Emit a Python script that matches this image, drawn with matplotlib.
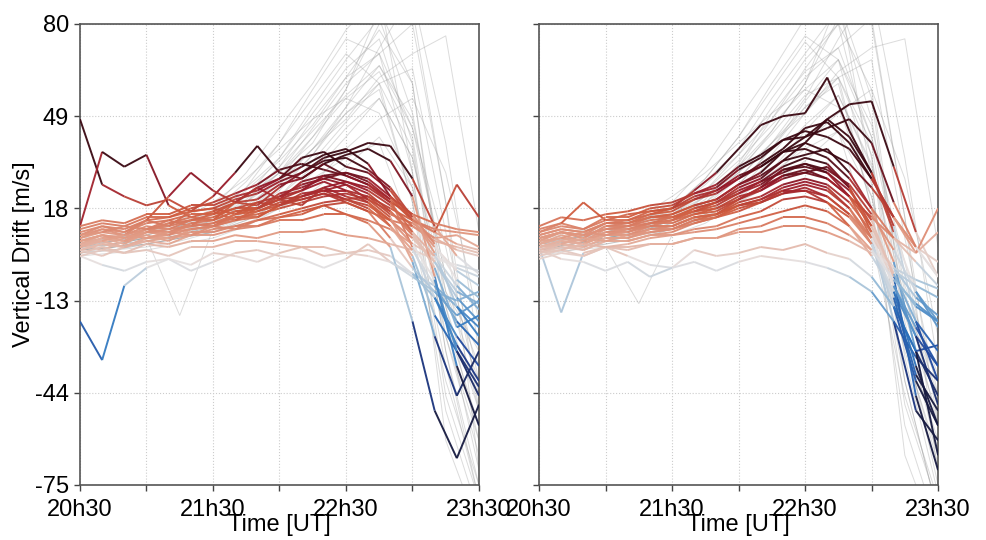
import numpy as np
import matplotlib
matplotlib.use("Agg")
import matplotlib.pyplot as plt
from matplotlib.collections import LineCollection
from matplotlib.colors import LinearSegmentedColormap, TwoSlopeNorm

plt.rcParams['font.family'] = ['Liberation Sans', 'DejaVu Sans']

# time stamps (UT) of the hand-read samples
times_fine = ["20:30", "20:40", "20:50", "21:00", "21:10", "21:20", "21:30", "21:40", "21:50", "22:00",
              "22:10", "22:20", "22:30", "22:40", "22:50", "23:00", "23:10", "23:20", "23:30"]
times_coarse = ["20:30", "20:45", "21:00", "21:15", "21:30", "21:45", "22:00", "22:15", "22:30",
                "22:45", "23:00", "23:15", "23:30"]

# left panel, coloured drifts [m/s]
left_colored = [
    [48, 26, 22, 19, 21, 17, 18, 16, 20, 19, 23, 24, 21, 22, 16, 13, 8, 9, 5],
    [12, 37, 32, 36, 19, 15, 17, 14, 18, 21, 19, 25, 22, 20, 14, 12, 7, 5, 3],
    [8, 11, 9, 14, 12, 17, 22, 30, 39, 30, 28, 33, 29, 26, 21, 14, 10, 6, 4],
    [6, 9, 7, 11, 14, 12, 17, 20, 19, 25, 30, 35, 37, 40, 39, 28, 12, 2, -4],
    [5, 8, 6, 10, 13, 15, 14, 20, 25, 28, 35, 37, 32, 30, 24, 14, 5, -3, -8],
    [9, 12, 10, 14, 22, 30, 24, 20, 25, 21, 27, 29, 27, 24, 19, 12, 8, 4, 2],
    [2, -1, -3, 0, 1, -3, 0, 3, 4, 2, 1, -2, 1, 6, 0, -4, -8, -15, -22],
    [-20, -33, -8, -2, 1, -1, 3, 2, 0, 3, 5, 2, 3, 4, 2, -4, -12, -25, -35],
    [5, 7, 5, 8, 10, 9, 12, 11, 14, 15, 17, 19, 16, 13, 5, -20, -50, -66, -48],
    [4, 6, 5, 8, 9, 11, 12, 15, 15, 19, 22, 24, 26, 21, 15, 0, -25, -45, -30],
    [7, 9, 7, 10, 9, 13, 12, 16, 18, 21, 24, 29, 30, 27, 21, 5, -12, -28, -40],
    [6, 4, 7, 9, 7, 11, 12, 14, 15, 19, 21, 23, 20, 17, 8, -2, -10, -18, -13],
    [8, 10, 9, 12, 11, 14, 15, 18, 18, 23, 25, 28, 26, 23, 17, 9, 0, -10, -14],
    [10, 12, 11, 14, 15, 17, 18, 21, 23, 27, 30, 34, 35, 31, 25, 15, 3, -15, -25],
    [5, 7, 5, 8, 8, 10, 10, 12, 12, 14, 14, 16, 16, 14, 11, 6, 2, -2, -5],
    [3, 5, 3, 6, 5, 7, 7, 9, 8, 10, 10, 11, 9, 8, 6, 4, 1, -1, -3],
    [12, 14, 13, 16, 16, 19, 19, 22, 24, 28, 32, 36, 38, 33, 22, 14, 10, 26, 15],
    [6, 8, 9, 11, 10, 13, 14, 17, 18, 21, 22, 24, 24, 22, 18, 14, 11, 10, 9],
    [4, 2, 5, 7, 6, 9, 9, 11, 12, 15, 16, 19, 20, 17, 14, 8, 0, -12, -20],
    [9, 11, 10, 13, 14, 16, 16, 20, 21, 26, 28, 33, 36, 38, 34, 22, -5, -35, -55],
    [7, 9, 8, 11, 12, 14, 14, 17, 18, 22, 24, 27, 24, 20, 12, 2, -18, -30, -45],
    [2, 4, 3, 4, 2, 5, 5, 7, 7, 6, 5, 5, 3, 2, 0, -5, -10, -13, -10],
    [11, 13, 12, 15, 15, 18, 20, 23, 26, 31, 33, 31, 29, 26, 20, 16, 13, 11, 10],
    [5, 8, 7, 10, 10, 12, 13, 16, 17, 20, 21, 23, 21, 18, 12, 4, -8, -20, -28],
    [7, 9, 8, 10, 11, 12, 13, 15, 16, 18, 20, 22, 23, 21, 17, 10, 2, -8, -16],
    [9, 10, 12, 11, 13, 14, 16, 18, 20, 22, 26, 28, 30, 28, 22, 16, 6, -6, -12],
    [4, 6, 5, 7, 8, 9, 11, 12, 14, 16, 18, 20, 21, 19, 14, 6, -6, -30, -42],
    [6, 7, 9, 8, 10, 11, 12, 14, 17, 19, 22, 25, 27, 25, 20, 10, -2, -22, -18],
]

# right panel, coloured drifts [m/s]
right_colored = [
    [7, 10, 8, 12, 13, 16, 18, 24, 30, 38, 46, 49, 50, 62, 44, 30, 10, -10, -20],
    [6, 9, 7, 11, 12, 15, 16, 19, 21, 26, 30, 37, 42, 48, 53, 54, 32, 10, -5],
    [5, 7, 6, 10, 10, 13, 14, 18, 20, 25, 28, 34, 40, 48, 42, 30, 12, -20, -40],
    [10, 13, 11, 14, 14, 16, 17, 21, 23, 28, 32, 37, 40, 37, 33, 25, 15, 5, -5],
    [4, 6, 5, 8, 8, 10, 11, 14, 16, 21, 25, 31, 32, 30, 22, 8, -20, -50, -60],
    [8, 10, 9, 13, 13, 15, 15, 18, 20, 24, 27, 32, 35, 33, 25, 10, -15, -40, -55],
    [3, 5, 4, 7, 7, 9, 10, 13, 15, 19, 21, 24, 24, 20, 12, 2, -10, -25, -35],
    [5, -17, 3, 5, 2, -1, -2, 4, 2, 3, 5, 4, 6, 3, 1, -5, -15, -30, -45],
    [4, 1, 0, -3, 0, -5, -2, 0, -3, 0, 2, 1, 0, -2, -5, -10, -20, -32, -40],
    [12, 15, 14, 16, 17, 19, 20, 23, 25, 31, 35, 41, 44, 42, 38, 28, 15, 5, 0],
    [6, 8, 6, 9, 9, 11, 12, 15, 16, 20, 22, 26, 28, 26, 20, 10, -5, -15, -20],
    [9, 11, 10, 13, 13, 15, 16, 19, 21, 26, 29, 34, 36, 38, 30, 18, 0, -30, -65],
    [5, 7, 6, 9, 9, 12, 12, 15, 16, 19, 20, 23, 24, 22, 16, 8, -2, -12, -18],
    [2, 4, 2, 5, 5, 6, 6, 8, 8, 10, 10, 12, 12, 10, 7, 3, -3, -8, -12],
    [11, 13, 20, 14, 16, 17, 18, 21, 24, 28, 33, 38, 45, 47, 40, 28, 15, 3, 10],
    [7, 10, 8, 12, 12, 14, 15, 17, 18, 22, 24, 29, 30, 28, 22, 15, 8, 3, 18],
    [3, 6, 4, 7, 7, 9, 9, 11, 12, 15, 17, 21, 22, 20, 15, 6, -10, -35, -55],
    [8, 10, 9, 11, 11, 13, 14, 17, 19, 23, 26, 31, 33, 30, 24, 14, -5, -45, -70],
    [4, 6, 5, 8, 8, 11, 11, 14, 15, 18, 20, 24, 26, 24, 18, 6, -15, -30, -28],
    [10, 12, 11, 15, 15, 18, 19, 23, 26, 32, 36, 41, 42, 45, 48, 40, 20, 5, -5],
    [6, 8, 7, 10, 11, 13, 13, 16, 17, 21, 24, 28, 30, 32, 25, 12, -8, -22, -35],
    [1, 3, 2, 5, 4, 6, 6, 8, 8, 11, 12, 15, 15, 13, 9, 4, -2, -6, -9],
    [9, 11, 10, 13, 14, 17, 18, 22, 24, 29, 32, 37, 38, 35, 28, 18, 8, 0, -8],
    [5, 7, 6, 9, 10, 12, 12, 15, 16, 19, 21, 25, 27, 25, 18, 8, -8, -25, -48],
    [7, 8, 10, 9, 11, 12, 14, 16, 18, 21, 25, 29, 31, 28, 22, 12, -4, -20, -30],
    [5, 6, 8, 7, 9, 10, 11, 13, 15, 17, 20, 23, 25, 22, 16, 6, -12, -38, -50],
    [8, 10, 9, 11, 12, 13, 15, 17, 20, 23, 27, 30, 33, 31, 26, 16, 4, -10, -22],
    [3, 4, 6, 5, 6, 8, 9, 10, 11, 13, 15, 17, 19, 17, 12, 4, -6, -14, -20],
]

# grey background drifts [m/s]
left_gray = [
    [5, 6, 8, 10, 14, 22, 35, 50, 65, 75, 40, -30, -80],
    [4, 5, 7, 9, 12, 18, 28, 42, 58, 85, 60, -20, -70],
    [3, 6, 8, 11, 16, 25, 40, 55, 70, 60, 20, -50, -85],
    [6, 7, 9, 12, 18, 30, 45, 60, 78, 90, 30, -60, -90],
    [5, 4, 6, 8, 10, 15, 22, 32, 45, 55, 35, -10, -40],
    [7, 8, 10, 14, 20, 28, 38, 48, 55, 50, 25, -25, -60],
    [4, 5, 7, 9, 13, 20, 30, 45, 60, 70, 80, 20, -50],
    [3, 4, 5, 7, 10, 14, 20, 28, 35, 40, 10, -40, -75],
    [6, 8, 10, 13, 17, 25, 35, 52, 68, 82, 50, -10, -30],
    [5, 6, 8, 10, 15, 20, 28, 38, 48, 62, 70, 76, 10],
    [8, 9, 11, 13, 16, 22, 32, 44, 56, 66, 45, 5, -45],
    [4, 6, 7, 9, 12, 16, 24, 36, 50, 58, 20, -35, -80],
    [2, 3, 4, 6, 8, 12, 18, 26, 38, 48, 55, 30, -20],
    [6, 7, 8, -18, 11, 17, 26, 38, 52, 72, 90, 40, -30],
    [5, 7, 9, 12, 16, 24, 34, 46, 62, 78, 60, -15, -60],
    [4, 5, 6, 8, 10, 13, 18, 24, 32, 42, 25, -20, -55],
    [5, 6, 7, 9, 13, 20, 32, 48, 62, 70, 45, -5, -50],
    [6, 8, 9, 12, 15, 22, 30, 40, 58, 80, 85, 20, -70],
    [3, 5, 6, 8, 11, 15, 22, 34, 47, 60, 38, -30, -75],
    [7, 8, 10, 12, 17, 27, 40, 58, 75, 70, 30, -45, -80],
    [4, 5, 7, 9, 12, 17, 25, 36, 52, 66, 48, -5, -35],
    [5, 7, 8, 10, 14, 21, 30, 42, 55, 64, 42, -25, -65],
    [6, 6, 8, 11, 14, 19, 27, 38, 50, 60, 65, 10, -40],
    [3, 4, 6, 8, 10, 14, 20, 30, 42, 55, 35, -15, -50],
]
right_gray = [
    [6, 7, 9, 12, 16, 24, 36, 52, 68, 80, 35, -40, -85],
    [5, 6, 8, 10, 14, 20, 30, 44, 60, 88, 55, -25, -75],
    [4, 6, 9, 12, 18, 28, 42, 58, 74, 62, 18, -55, -90],
    [7, 8, 10, 13, 20, 32, 48, 64, 82, 92, 28, -65, -95],
    [5, 5, 7, 9, 11, 16, 24, 34, 46, 56, 32, -12, -45],
    [8, 9, 11, 15, 22, 30, 40, 50, 58, 52, 22, -30, -65],
    [4, 6, 8, 10, 14, 22, 32, 48, 62, 72, 82, 15, -55],
    [3, 4, 6, 8, 11, 15, 22, 30, 38, 44, 8, -45, -80],
    [7, 8, 11, 14, 18, 27, 38, 55, 70, 85, 48, -15, -40],
    [5, 7, 9, 11, 16, 22, 30, 40, 50, 64, 72, 75, 5],
    [8, 10, 12, 14, 18, 24, 34, 46, 58, 68, 42, 0, -50],
    [4, 6, 8, 10, 13, 18, 26, 38, 52, 60, 18, -40, -85],
    [2, 4, 5, -14, 9, 13, 20, 28, 40, 50, 58, 28, -25],
    [6, 8, 9, 11, 12, 19, 28, 40, 55, 75, 92, 35, -35],
    [5, 7, 10, 13, 17, 26, 36, 48, 65, 80, 58, -20, -65],
    [4, 5, 7, 9, 11, 14, 20, 26, 34, 44, 22, -25, -60],
    [6, 7, 8, 10, 14, 21, 33, 50, 64, 72, 42, -10, -55],
    [5, 7, 9, 11, 16, 23, 32, 44, 60, 82, 80, 15, -72],
    [4, 5, 7, 9, 12, 16, 24, 36, 50, 62, 36, -32, -78],
    [6, 8, 10, 13, 18, 28, 42, 60, 76, 68, 26, -48, -82],
    [5, 6, 8, 10, 13, 18, 26, 38, 54, 68, 46, -8, -38],
    [4, 6, 8, 11, 15, 22, 31, 43, 56, 62, 40, -28, -68],
    [7, 7, 9, 12, 15, 20, 28, 40, 52, 62, 68, 8, -45],
    [3, 5, 6, 8, 11, 15, 21, 31, 44, 56, 33, -18, -52],
]

x_tick_labels = ["20h30", "21h30", "22h30", "23h30"]


def to_hours(stamps):
    return np.array([int(s[:2]) + int(s[3:]) / 60.0 for s in stamps])


t_fine = to_hours(times_fine)
t_coarse = to_hours(times_coarse)

# approximation of a balance-like diverging map
cmap = LinearSegmentedColormap.from_list("balance_like", [
    (0.00, "#161a40"), (0.12, "#1c3f97"), (0.25, "#2f78c0"), (0.38, "#93b9d6"),
    (0.50, "#e6e2e2"), (0.62, "#e3a08a"), (0.75, "#cf5a3d"), (0.88, "#9a1a2a"),
    (1.00, "#3a0812")])
norm = TwoSlopeNorm(vmin=-42, vcenter=0, vmax=34)


def draw_panel(ax, colored, gray):
    for g in gray:
        ax.plot(t_coarse, g, color="#9a9a9a", lw=0.7, alpha=0.35, zorder=2)
    segs = []
    vals = []
    for c in colored:
        y = np.array(c, dtype=float)
        pts = np.column_stack([t_fine, y])
        for i in range(len(y) - 1):
            segs.append([pts[i], pts[i + 1]])
            vals.append(0.5 * (y[i] + y[i + 1]))
    lc = LineCollection(segs, cmap=cmap, norm=norm, linewidths=1.4, alpha=0.95, zorder=3)
    lc.set_array(np.array(vals))
    ax.add_collection(lc)

    ax.set_xlim(20.5, 23.5)
    ax.set_ylim(-75, 80)
    ax.set_xticks(to_hours(["20:30", "21:30", "22:30", "23:30"]))
    ax.set_xticks(to_hours(["21:00", "22:00", "23:00"]), minor=True)
    ax.set_xticklabels(x_tick_labels)
    ax.set_yticks(np.linspace(-75, 80, 6))
    ax.grid(True, which="both", axis="x", color="#cccccc", ls=":", lw=0.8)
    ax.grid(True, which="major", axis="y", color="#cccccc", ls=":", lw=0.8)
    ax.tick_params(axis="both", which="both", labelsize=17, length=4, width=1, color="#444444")
    ax.tick_params(axis="x", which="both", pad=6)
    ax.tick_params(axis="y", which="both", pad=4)
    for s in ax.spines.values():
        s.set_color("#555555")
        s.set_linewidth(1.2)
    ax.set_xlabel("Time [UT]", fontsize=17, labelpad=-5)


fig = plt.figure(figsize=(9.86, 5.4), dpi=100)
ax1 = fig.add_axes([0.0811, 0.1019, 0.4047, 0.8537])
ax2 = fig.add_axes([0.5467, 0.1019, 0.4047, 0.8537])

draw_panel(ax1, left_colored, left_gray)
draw_panel(ax2, right_colored, right_gray)

ax1.set_yticklabels(["-75", "-44", "-13", "18", "49", "80"])
ax1.set_ylabel("Vertical Drift [m/s]", fontsize=17, labelpad=0)
ax2.set_yticklabels([])

fig.savefig("out.png", dpi=100)
